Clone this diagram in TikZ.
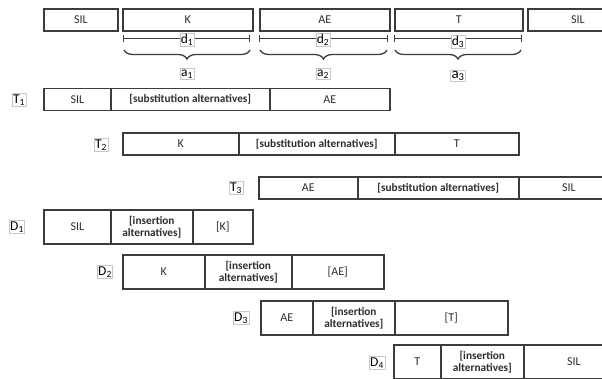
\documentclass[tikz,border=0pt]{standalone}
\usepackage{fontspec}
\setmainfont{Carlito}
\usetikzlibrary{arrows.meta,decorations.pathreplacing}
\definecolor{linec}{RGB}{60,60,60}
\definecolor{textc}{RGB}{45,45,45}
\definecolor{lblc}{RGB}{200,200,200}
\begin{document}
\begin{tikzpicture}[x=1pt,y=-1pt,
  cell/.style={draw=linec,line width=1.6pt,inner sep=0pt,anchor=west,text=textc,
     font=\fontsize{12}{13}\selectfont},
  trow/.style={cell,minimum height=22pt},
  drow/.style={cell,minimum height=34pt},
  alt/.style={font=\fontsize{11.3}{12.5}\selectfont\bfseries,align=center},
  lbl/.style={draw=lblc,line width=0.6pt,fill=white,inner sep=1pt,text=black,
     font=\fontsize{13.5}{14}\selectfont},
  dline/.style={draw=linec,line width=1.3pt,{Bar[width=7pt]}-{Bar[width=7pt]}},
  brc/.style={draw=linec,line width=1.3pt,decorate,decoration={brace,mirror,amplitude=9pt}}
]
\useasboundingbox (0,0) rectangle (602,379);
\clip (0,0) rectangle (602,379);
% top row
\node[trow,minimum width=74pt]  (s0) at (43,20)  {SIL};
\node[trow,minimum width=130pt] (k0) at (122,20) {K};
\node[trow,minimum width=130pt] (ae0) at (259,20) {AE};
\node[trow,minimum width=128pt] (t0) at (394,20) {T};
\node[trow,minimum width=100pt] (s1) at (527,20) {SIL};
% duration lines
\coordinate (d1a) at (123,38.5); \coordinate (d1b) at (250,38.5);
\coordinate (d2a) at (259,38.5); \coordinate (d2b) at (388,38.5);
\coordinate (d3a) at (394,38.5); \coordinate (d3b) at (522,38.5);
\draw[dline] (d1a) -- (d1b);
\draw[dline] (d2a) -- (d2b);
\draw[dline] (d3a) -- (d3b);
\node[lbl] (d1) at (187,40) {d\textsubscript{1}};
\node[lbl] (d2) at (323,40) {d\textsubscript{2}};
\node[lbl] (d3) at (458,42) {d\textsubscript{3}};
% braces
\coordinate (b1a) at (124,50); \coordinate (b1b) at (250,50);
\coordinate (b2a) at (260,50); \coordinate (b2b) at (387,50);
\coordinate (b3a) at (395,50); \coordinate (b3b) at (521,50);
\draw[brc] (b1a) -- (b1b);
\draw[brc] (b2a) -- (b2b);
\draw[brc] (b3a) -- (b3b);
\node[lbl] (a1) at (187,74) {a\textsubscript{1}};
\node[lbl] (a2) at (323,74) {a\textsubscript{2}};
\node[lbl,font=\fontsize{15}{15}\selectfont] (a3) at (458,76) {a\textsubscript{3}};
% T rows
\node[lbl] (T1) at (19,100) {T\textsubscript{1}};
\node[trow,minimum width=67pt]  (t1a) at (43,99.5) {SIL};
\node[trow,minimum width=159pt,alt] (t1b) at (110,99.5) {[substitution alternatives]};
\node[trow,minimum width=120pt] (t1c) at (269,99.5) {AE};

\node[lbl] (T2) at (101,145) {T\textsubscript{2}};
\node[trow,minimum width=116pt] (t2a) at (122,144) {K};
\node[trow,minimum width=156pt,alt] (t2b) at (238,144) {[substitution alternatives]};
\node[trow,minimum width=124pt] (t2c) at (394,144) {T};

\node[lbl] (T3) at (236,188) {T\textsubscript{3}};
\node[trow,minimum width=99pt]  (t3a) at (258,188) {AE};
\node[trow,minimum width=161pt,alt] (t3b) at (357,188) {[substitution alternatives]};
\node[trow,minimum width=100pt] (t3c) at (518,188) {SIL};
% D rows
\node[lbl] (D1) at (17,227) {D\textsubscript{1}};
\node[drow,minimum width=67pt] (e1a) at (43,227) {SIL};
\node[drow,minimum width=82pt,alt] (e1b) at (110,227) {[insertion\\alternatives]};
\node[drow,minimum width=60pt] (e1c) at (192,227) {[K]};

\node[lbl] (D2) at (105,272) {D\textsubscript{2}};
\node[drow,minimum width=82pt] (e2a) at (122,272) {K};
\node[drow,minimum width=87pt,alt] (e2b) at (204,272) {[insertion\\alternatives]};
\node[drow,minimum width=92pt] (e2c) at (291,272) {[AE]};

\node[lbl] (D3) at (241,318) {D\textsubscript{3}};
\node[drow,minimum width=52pt] (e3a) at (260,318) {AE};
\node[drow,minimum width=82pt,alt] (e3b) at (312,318) {[insertion\\alternatives]};
\node[drow,minimum width=113pt] (e3c) at (394,318) {[T]};

\node[lbl] (D4) at (377,363) {D\textsubscript{4}};
\node[drow,minimum width=47pt] (e4a) at (393,362) {T};
\node[drow,minimum width=83pt,alt] (e4b) at (440,362) {[insertion\\alternatives]};
\node[drow,minimum width=100pt] (e4c) at (523,362) {SIL};
\end{tikzpicture}
\end{document}
